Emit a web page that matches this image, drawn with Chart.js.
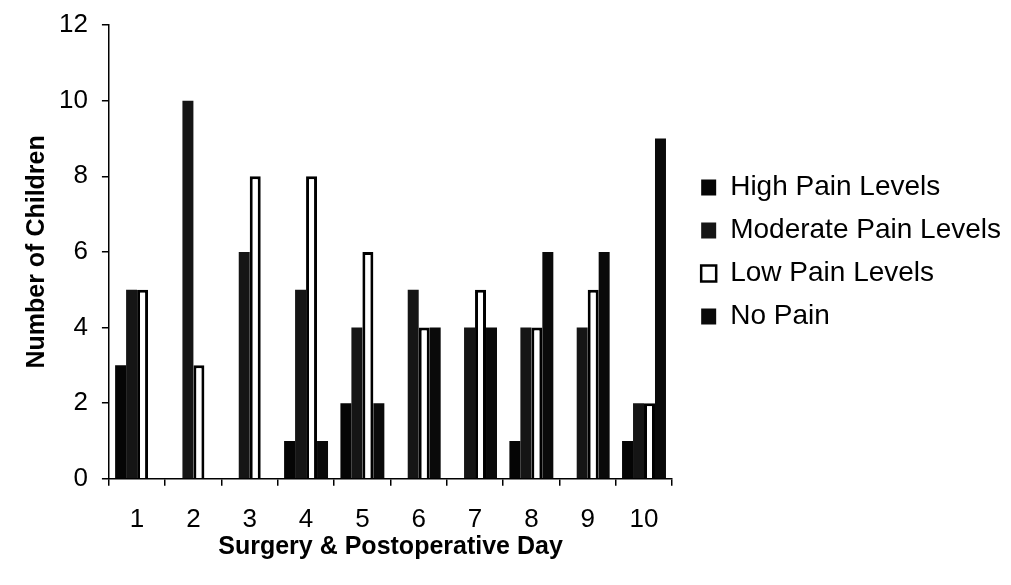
<!DOCTYPE html>
<html>
<head>
<meta charset="utf-8">
<script src="https://cdn.jsdelivr.net/npm/chart.js@4/dist/chart.umd.min.js"></script>
<style>
  html, body { margin: 0; padding: 0; background: #ffffff; }
  #wrap { position: relative; width: 1011px; height: 585px; }
</style>
</head>
<body>
<div id="wrap"><canvas id="c" width="1011" height="585"></canvas></div>
<script>
const days = ['1', '2', '3', '4', '5', '6', '7', '8', '9', '10'];
const highPain = [3, 0, 0, 1, 2, 0, 0, 1, 0, 1];
const moderatePain = [5, 10, 6, 5, 4, 5, 4, 4, 4, 2];
const lowPain = [5, 3, 8, 8, 6, 4, 5, 4, 5, 2];
const noPain = [0, 0, 0, 1, 2, 4, 4, 6, 6, 9];
const seriesNames = ['High Pain Levels', 'Moderate Pain Levels', 'Low Pain Levels', 'No Pain'];
const yTicks = [0, 2, 4, 6, 8, 10, 12];

const legendGap = {
  id: 'legendGap',
  afterLayout(chart) {
    const lg = chart.legend;
    if (!lg) return;
    const pad = lg.options.labels.padding;
    const shift = chart.chartArea.right + 29 - (lg.left + pad);
    lg.left += shift;
    lg.right += shift;
  }
};

Chart.defaults.font.family = '"Liberation Sans", Arial, sans-serif';
Chart.defaults.color = '#000';

new Chart(document.getElementById('c'), {
  type: 'bar',
  data: {
    labels: days,
    datasets: [
      { label: seriesNames[0], data: highPain, backgroundColor: '#050505', borderColor: '#050505', borderWidth: 0 },
      { label: seriesNames[1], data: moderatePain, backgroundColor: '#151515', borderColor: '#151515', borderWidth: 0 },
      { label: seriesNames[2], data: lowPain, backgroundColor: '#ffffff', borderColor: '#000000', borderWidth: 3 },
      { label: seriesNames[3], data: noPain, backgroundColor: '#0a0a0a', borderColor: '#0a0a0a', borderWidth: 0 }
    ]
  },
  options: {
    responsive: false,
    animation: false,
    devicePixelRatio: 1,
    layout: { autoPadding: false, padding: { left: 18, right: 14, top: 25, bottom: 19 } },
    datasets: { bar: { barPercentage: 1.0, categoryPercentage: 0.78 } },
    plugins: {
      tooltip: { enabled: false },
      legend: {
        position: 'right',
        fullSize: false,
        maxWidth: 440,
        labels: {
          boxWidth: 15,
          boxHeight: 16,
          padding: 15,
          color: '#000',
          font: { size: 28, weight: 'normal' },
          generateLabels(chart) {
            return chart.data.datasets.map((ds, i) => ({
              text: ds.label,
              fillStyle: ds.backgroundColor,
              strokeStyle: '#000',
              lineWidth: i === 2 ? 2.5 : 0,
              hidden: false,
              datasetIndex: i
            }));
          }
        }
      }
    },
    scales: {
      x: {
        grid: { display: true, drawOnChartArea: false, offset: true, color: '#000', lineWidth: 1.5, tickLength: 7 },
        border: { display: true, color: '#000', width: 1.5 },
        ticks: { font: { size: 26 }, padding: 18, color: '#000', maxRotation: 0 },
        title: { display: true, text: 'Surgery & Postoperative Day', font: { size: 25, weight: 'bold' }, color: '#000', padding: { top: -21, bottom: 4 } }
      },
      y: {
        min: 0,
        max: 12,
        afterBuildTicks(scale) { scale.ticks = yTicks.map(v => ({ value: v })); },
        afterFit(scale) { scale.paddingTop = 0; scale.paddingBottom = 0; },
        grid: { display: true, drawOnChartArea: false, color: '#000', lineWidth: 1.5, tickLength: 7 },
        border: { display: true, color: '#000', width: 1.5 },
        ticks: { font: { size: 26 }, padding: 14, color: '#000' },
        title: { display: true, text: 'Number of Children', font: { size: 25, weight: 'bold' }, color: '#000', padding: { top: 4, bottom: -7 } }
      }
    }
  },
  plugins: [legendGap]
});
</script>
</body>
</html>
